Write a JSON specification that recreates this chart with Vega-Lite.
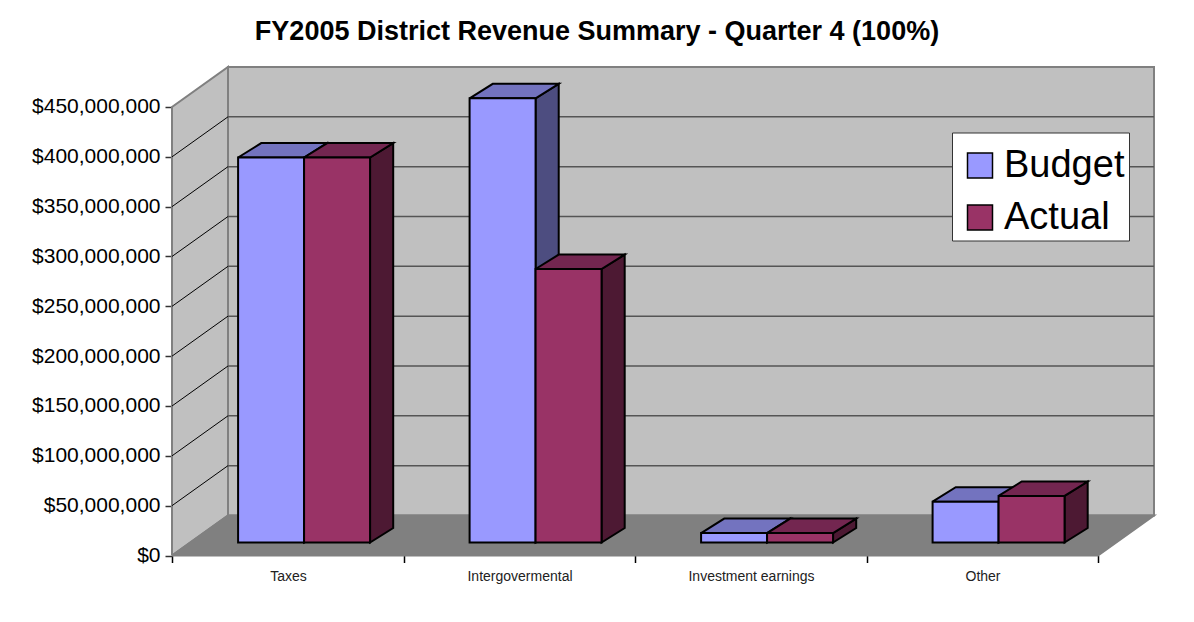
{
"$schema":"https://vega.github.io/schema/vega-lite/v6.json",
"width":982,"height":488.5,
"autosize":{"type":"none"},
"padding":{"left":172,"top":67,"right":40,"bottom":66},
"background":"white",
"title":{"text":"FY2005 District Revenue Summary - Quarter 4 (100%)","font":"Liberation Sans","fontSize":27,"fontWeight":"bold","color":"black","anchor":"middle","frame":"group","dx":-66,"offset":17},
"config":{"view":{"stroke":null},"font":"Liberation Sans"},
"datasets":{
"revenue":[
{"category":"Taxes","series":"Budget","value":386300000},
{"category":"Taxes","series":"Actual","value":386300000},
{"category":"Intergovermental","series":"Budget","value":445700000},
{"category":"Intergovermental","series":"Actual","value":274400000},
{"category":"Investment earnings","series":"Budget","value":9500000},
{"category":"Investment earnings","series":"Actual","value":9500000},
{"category":"Other","series":"Budget","value":41000000},
{"category":"Other","series":"Actual","value":46700000}
],
"ticks":[{"tick":50000000},{"tick":100000000},{"tick":150000000},{"tick":200000000},{"tick":250000000},{"tick":300000000},{"tick":350000000},{"tick":400000000},{"tick":450000000}],
"faces":[{"face":"left"},{"face":"back"},{"face":"floor"}]
},
"layer":[
{"data":{"name":"faces"},
 "transform":[
  {"calculate":"datum.face=='floor'?[0,4,4.2419,0.2419,0]:datum.face=='back'?[0.2419,4.2419,4.2419,0.2419,0.2419]:[0,0.2419,0.2419,0,0]","as":"vx"},
  {"calculate":"datum.face=='floor'?[0,0,40130000,40130000,0]:datum.face=='back'?[40130000,40130000,490130000,490130000,40130000]:[0,40130000,490130000,450000000,0]","as":"vy"},
  {"calculate":"[0,1,2,3,4]","as":"vi"},
  {"flatten":["vx","vy","vi"]},
  {"calculate":"datum.face=='floor'?'#808080':'#C0C0C0'","as":"shade"}
 ],
 "mark":{"type":"line","stroke":"#808080","strokeWidth":2,"strokeJoin":"miter"},
 "encoding":{
  "x":{"field":"vx","type":"quantitative","scale":{"domain":[0,4.2419],"nice":false,"zero":false},
   "axis":{"values":[0,1,2,3,4],"title":null,"grid":false,"domain":false,"tickSize":7,"tickColor":"#000000","tickWidth":1.5,"labelExpr":"['Taxes','Intergovermental','Investment earnings','Other',''][datum.value]","labelOffset":116,"labelPadding":7,"labelFontSize":14,"labelColor":"#222222","labelFlush":false,"labelBound":false,"labelOverlap":false,"labelFont":"Liberation Sans"}},
  "y":{"field":"vy","type":"quantitative","scale":{"domain":[0,490130000],"nice":false,"zero":false},
   "axis":{"values":[0,50000000,100000000,150000000,200000000,250000000,300000000,350000000,400000000,450000000],"format":"$,.0f","title":null,"grid":false,"domain":false,"tickSize":7,"tickColor":"#333333","tickWidth":1.5,"labelPadding":5,"labelFontSize":21,"labelColor":"#000000","labelFont":"Liberation Sans"}},
  "order":{"field":"vi","type":"quantitative"},
  "detail":{"field":"face"},
  "fill":{"field":"shade","type":"nominal","scale":null}}},
{"data":{"name":"ticks"},
 "transform":[{"filter":"datum.tick<450000000"},{"calculate":"datum.tick+40130000","as":"back"}],
 "mark":{"type":"rule","stroke":"#000000","strokeWidth":1},
 "encoding":{"x":{"datum":0},"x2":{"datum":0.2419},"y":{"field":"tick","type":"quantitative"},"y2":{"field":"back"}}},
{"data":{"name":"ticks"},
 "transform":[{"filter":"datum.tick<450000000"},{"calculate":"datum.tick+40130000","as":"back"}],
 "mark":{"type":"rule","stroke":"#555555","strokeWidth":1.5},
 "encoding":{"x":{"datum":0.2419},"x2":{"datum":4.2419},"y":{"field":"back","type":"quantitative"}}},
{"mark":{"type":"rule","stroke":"#000000","strokeWidth":1},
 "encoding":{"x":{"datum":4},"x2":{"datum":4.2419},"y":{"datum":0},"y2":{"datum":40130000}}},
{"mark":{"type":"rule","stroke":"#333333","strokeWidth":1.5},
 "encoding":{"x":{"datum":0},"y":{"datum":0},"y2":{"datum":450000000}}},
{"mark":{"type":"rule","stroke":"#000000","strokeWidth":1.5},
 "encoding":{"x":{"datum":0},"x2":{"datum":4},"y":{"datum":0}}},
{"data":{"name":"revenue"},
 "transform":[
  {"calculate":"indexof(['Taxes','Intergovermental','Investment earnings','Other'],datum.category)+0.2855+(datum.series=='Actual'?0.285:0)","as":"x0"},
  {"calculate":"datum.x0+0.285","as":"x1"},
  {"calculate":"datum.value+13040000","as":"t"},
  {"calculate":"[datum.x1,datum.x1+0.1,datum.x1+0.1,datum.x1,datum.x1]","as":"vx"},
  {"calculate":"[datum.t,datum.t+14500000,27540000,13040000,datum.t]","as":"vy"},
  {"calculate":"[0,1,2,3,4]","as":"vi"},
  {"flatten":["vx","vy","vi"]},
  {"calculate":"datum.series=='Budget'?'#4D4D80':'#4D1933'","as":"shade"},
  {"calculate":"datum.category+datum.series","as":"key"}
 ],
 "mark":{"type":"line","stroke":"#000000","strokeWidth":2,"strokeJoin":"miter"},
 "encoding":{
  "x":{"field":"vx","type":"quantitative"},
  "y":{"field":"vy","type":"quantitative"},
  "order":{"field":"vi","type":"quantitative"},
  "detail":{"field":"key"},
  "fill":{"field":"shade","type":"nominal","scale":null}}},
{"data":{"name":"revenue"},
 "transform":[
  {"calculate":"indexof(['Taxes','Intergovermental','Investment earnings','Other'],datum.category)+0.2855+(datum.series=='Actual'?0.285:0)","as":"x0"},
  {"calculate":"datum.value+13040000","as":"t"},
  {"calculate":"[datum.x0,datum.x0+0.285,datum.x0+0.385,datum.x0+0.1,datum.x0]","as":"vx"},
  {"calculate":"[datum.t,datum.t,datum.t+14500000,datum.t+14500000,datum.t]","as":"vy"},
  {"calculate":"[0,1,2,3,4]","as":"vi"},
  {"flatten":["vx","vy","vi"]},
  {"calculate":"datum.series=='Budget'?'#7373BF':'#732650'","as":"shade"},
  {"calculate":"datum.category+datum.series","as":"key"}
 ],
 "mark":{"type":"line","stroke":"#000000","strokeWidth":2,"strokeJoin":"miter"},
 "encoding":{
  "x":{"field":"vx","type":"quantitative"},
  "y":{"field":"vy","type":"quantitative"},
  "order":{"field":"vi","type":"quantitative"},
  "detail":{"field":"key"},
  "fill":{"field":"shade","type":"nominal","scale":null}}},
{"data":{"name":"revenue"},
 "transform":[
  {"calculate":"indexof(['Taxes','Intergovermental','Investment earnings','Other'],datum.category)+0.2855+(datum.series=='Actual'?0.285:0)","as":"x0"},
  {"calculate":"datum.x0+0.285","as":"x1"},
  {"calculate":"datum.value+13040000","as":"t"},
  {"calculate":"13040000","as":"b"}
 ],
 "mark":{"type":"rect","stroke":"#000000","strokeWidth":2},
 "encoding":{
  "x":{"field":"x0","type":"quantitative"},
  "x2":{"field":"x1"},
  "y":{"field":"t","type":"quantitative"},
  "y2":{"field":"b"},
  "color":{"field":"series","type":"nominal","scale":{"domain":["Budget","Actual"],"range":["#9999FF","#993366"]},
   "legend":{"orient":"none","legendX":780,"legendY":65.5,"title":"\u00a0","titleFontSize":8,"titlePadding":3,"symbolType":"square","symbolSize":625,"symbolStrokeColor":"#000000","symbolStrokeWidth":1.5,"symbolOpacity":1,"labelFontSize":38,"labelExpr":"datum.label+'\u00a0'","labelColor":"#000000","labelFont":"Liberation Sans","labelOffset":5,"rowPadding":14,"fillColor":"#FFFFFF","strokeColor":"#333333","padding":4,"clipHeight":36,"symbolOffset":5}}}}
]
}
